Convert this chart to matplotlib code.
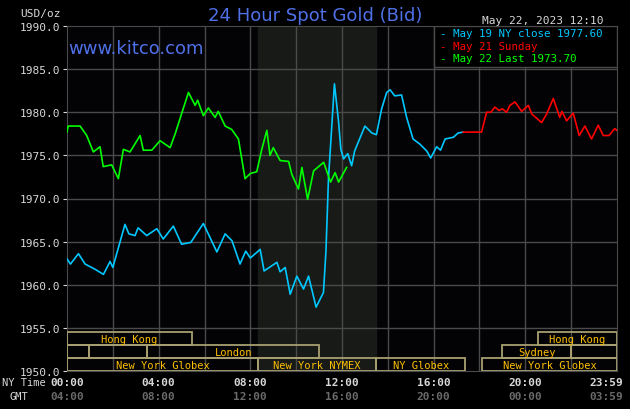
import matplotlib.pyplot as plt
from matplotlib.patches import Rectangle
from matplotlib.transforms import blended_transform_factory

# May 19 NY close (cyan)
cyan_hours = [0.0, 0.15, 0.5, 0.79, 1.22, 1.59, 1.88, 2.0, 2.53, 2.7, 2.97, 3.1, 3.48, 3.92, 4.2,
              4.64, 5.0, 5.4, 5.95, 6.54, 6.9, 7.2, 7.55, 7.8, 8.0, 8.43, 8.6, 9.16, 9.3, 9.52,
              9.74, 10.03, 10.32, 10.54, 10.87, 11.19, 11.3, 11.41, 11.67, 11.85, 11.95, 12.07,
              12.25, 12.42, 12.55, 13.0, 13.3, 13.5, 13.6, 13.73, 13.95, 14.1, 14.3, 14.6, 14.82,
              15.1, 15.4, 15.7, 15.87, 16.13, 16.3, 16.5, 16.86, 17.07, 17.29]
cyan_price = [1963.0, 1962.4, 1963.6, 1962.4, 1961.8, 1961.2, 1962.7, 1962.0, 1967.0, 1965.9,
              1965.7, 1966.6, 1965.7, 1966.5, 1965.3, 1966.8, 1964.7, 1964.9, 1967.1, 1963.8,
              1965.9, 1965.1, 1962.4, 1963.9, 1963.1, 1964.1, 1961.6, 1962.6, 1961.5, 1962.0,
              1958.9, 1961.0, 1959.5, 1961.0, 1957.4, 1959.1, 1963.9, 1972.3, 1983.3, 1978.9,
              1975.7, 1974.6, 1975.2, 1973.8, 1975.5, 1978.4, 1977.6, 1977.4, 1978.7, 1980.4,
              1982.3, 1982.6, 1981.9, 1982.0, 1979.4, 1976.9, 1976.3, 1975.5, 1974.7, 1976.0,
              1975.6, 1976.9, 1977.1, 1977.6, 1977.7]

# May 21 Sunday (red)
red_hours = [17.29, 18.09, 18.31, 18.5, 18.67, 18.85, 19.0, 19.18, 19.33, 19.55, 19.84, 20.13,
             20.28, 20.71, 20.93, 21.22, 21.5, 21.6, 21.8, 22.09, 22.35, 22.6, 22.89, 23.18,
             23.4, 23.65, 23.9, 24.0]
red_price = [1977.7, 1977.7, 1980.0, 1980.0, 1980.6, 1980.2, 1980.4, 1980.0, 1980.8, 1981.2,
             1980.1, 1980.8, 1979.8, 1978.8, 1979.8, 1981.6, 1979.4, 1980.1, 1979.0, 1979.9,
             1977.3, 1978.4, 1976.9, 1978.5, 1977.3, 1977.3, 1978.1, 1977.9]

# May 22 Last (green)
green_hours = [0.0, 0.05, 0.57, 0.86, 1.15, 1.44, 1.58, 1.95, 2.24, 2.46, 2.75, 3.19, 3.33, 3.7,
               4.06, 4.5, 4.72, 5.3, 5.59, 5.7, 5.95, 6.17, 6.46, 6.6, 6.9, 7.19, 7.48, 7.77,
               8.0, 8.28, 8.5, 8.72, 8.86, 9.0, 9.3, 9.67, 9.81, 10.1, 10.25, 10.5, 10.76,
               11.2, 11.5, 11.7, 11.85, 12.2]
green_price = [1977.7, 1978.4, 1978.4, 1977.3, 1975.4, 1976.0, 1973.7, 1973.9, 1972.3, 1975.7,
               1975.4, 1977.3, 1975.6, 1975.6, 1976.7, 1975.9, 1977.5, 1982.3, 1980.8, 1981.4,
               1979.6, 1980.5, 1979.4, 1980.1, 1978.4, 1978.0, 1976.9, 1972.3, 1972.9, 1973.1,
               1975.7, 1977.9, 1975.0, 1975.9, 1974.4, 1974.3, 1972.8, 1971.1, 1973.6, 1969.9,
               1973.2, 1974.2, 1971.9, 1973.0, 1971.9, 1973.6]

# trading sessions: name, start hour, end hour, row (0 = bottom)
session_names = ["New York Globex", "New York NYMEX", "NY Globex", "New York Globex",
                 "", "", "London", "Sydney", "", "Hong Kong", "Hong Kong"]
session_start = [0.0, 8.33, 13.5, 18.1, 0.0, 0.95, 3.5, 19.0, 22.0, 0.0, 20.55]
session_end = [8.33, 13.5, 17.37, 24.0, 0.95, 3.5, 11.0, 22.0, 24.0, 5.45, 24.0]
session_row = [0, 0, 0, 0, 1, 1, 1, 1, 1, 2, 2]

tick_hours = [0, 4, 8, 12, 16, 20, 23.98]
ny_labels = ["00:00", "04:00", "08:00", "12:00", "16:00", "20:00", "23:59"]
gmt_labels = ["04:00", "08:00", "12:00", "16:00", "20:00", "00:00", "03:59"]

mono = "DejaVu Sans Mono"
fig = plt.figure(figsize=(6.3, 4.1), dpi=100, facecolor="black")
ax = fig.add_axes([67 / 630, 1 - 372 / 410, 550 / 630, 345 / 410])
ax.set_facecolor("#030306")
ax.set_xlim(0, 24)
ax.set_ylim(1950, 1990)

ax.axvspan(8.33, 13.5, color="#171a17", zorder=0)
for h in range(2, 24, 2):
    ax.axvline(h, color="#4a4a4a", lw=1, zorder=1)
for p in range(1955, 1990, 5):
    ax.axhline(p, color="#4a4a4a", lw=1, zorder=1)

row_h = 1.5
for name, s, e, r in zip(session_names, session_start, session_end, session_row):
    ax.add_patch(Rectangle((s, 1950 + r * row_h), e - s, row_h, fill=False,
                           ec="#a8a070", lw=1.3, zorder=3))
    if name:
        ax.text((s + e) / 2, 1950 + r * row_h + row_h / 2, name, color="#ffc000",
                family=mono, fontsize=7.5, ha="center", va="center", zorder=4)

ax.plot(cyan_hours, cyan_price, color="#00c8ff", lw=1.2, zorder=5)
ax.plot(red_hours, red_price, color="#ff0000", lw=1.2, zorder=5)
ax.plot(green_hours, green_price, color="#00ff00", lw=1.2, zorder=6)

for sp in ax.spines.values():
    sp.set_color("#4a4a4a")
ax.set_xticks([])
ax.set_yticks(range(1950, 1991, 5))
ax.set_yticklabels([f"{p:.1f}" for p in range(1950, 1991, 5)], family=mono,
                   fontsize=8, color="#d8d8d8")
ax.tick_params(axis="y", length=3, color="#d8d8d8", pad=2)

tr = blended_transform_factory(ax.transData, fig.transFigure)
for h, ny, gmt in zip(tick_hours, ny_labels, gmt_labels):
    # last label is pulled inside so it stays on the canvas
    ha = "right" if h > 23 else "center"
    x = 24.25 if h > 23 else h
    ax.text(x, 1 - 383 / 410, ny, transform=tr, family=mono, fontsize=8,
            color="#d8d8d8", ha=ha, va="center", weight="bold")
    ax.text(x, 1 - 397 / 410, gmt, transform=tr, family=mono, fontsize=8,
            color="#6a6a6a", ha=ha, va="center", weight="bold")
fig.text(2 / 630, 1 - 383 / 410, "NY Time", family=mono, fontsize=7.5, color="#d8d8d8", va="center")
fig.text(10 / 630, 1 - 397 / 410, "GMT", family=mono, fontsize=7.5, color="#d8d8d8", va="center")
fig.text(20 / 630, 1 - 14 / 410, "USD/oz", family=mono, fontsize=8, color="#d8d8d8", va="center")

fig.text(0.5, 1 - 16 / 410, "24 Hour Spot Gold (Bid)", color="#5070e8", fontsize=13,
         ha="center", va="center", family="Liberation Sans Narrow")
fig.text(482 / 630, 1 - 21 / 410, "May 22, 2023 12:10", family=mono, fontsize=8,
         color="#d8d8d8", va="center")
ax.text(0.003, 0.935, "www.kitco.com", transform=ax.transAxes, color="#5070e8", fontsize=13,
        va="center", family="Liberation Sans Narrow", zorder=7)

# legend box
ax.add_patch(Rectangle((434 / 630, 1 - 68 / 410), 183 / 630, 41 / 410,
                       transform=fig.transFigure, facecolor="black",
                       edgecolor="#4a4a4a", lw=1, zorder=8))
leg_text = ["May 19 NY close 1977.60", "May 21 Sunday", "May 22 Last 1973.70"]
leg_color = ["#00c8ff", "#ff0000", "#00ff00"]
for i, (t, c) in enumerate(zip(leg_text, leg_color)):
    fig.text(440 / 630, 1 - (34 + 12.5 * i) / 410, "- " + t, family=mono, fontsize=7.8,
             color=c, va="center", zorder=9)

fig.savefig("out.png", dpi=100, facecolor="black")
